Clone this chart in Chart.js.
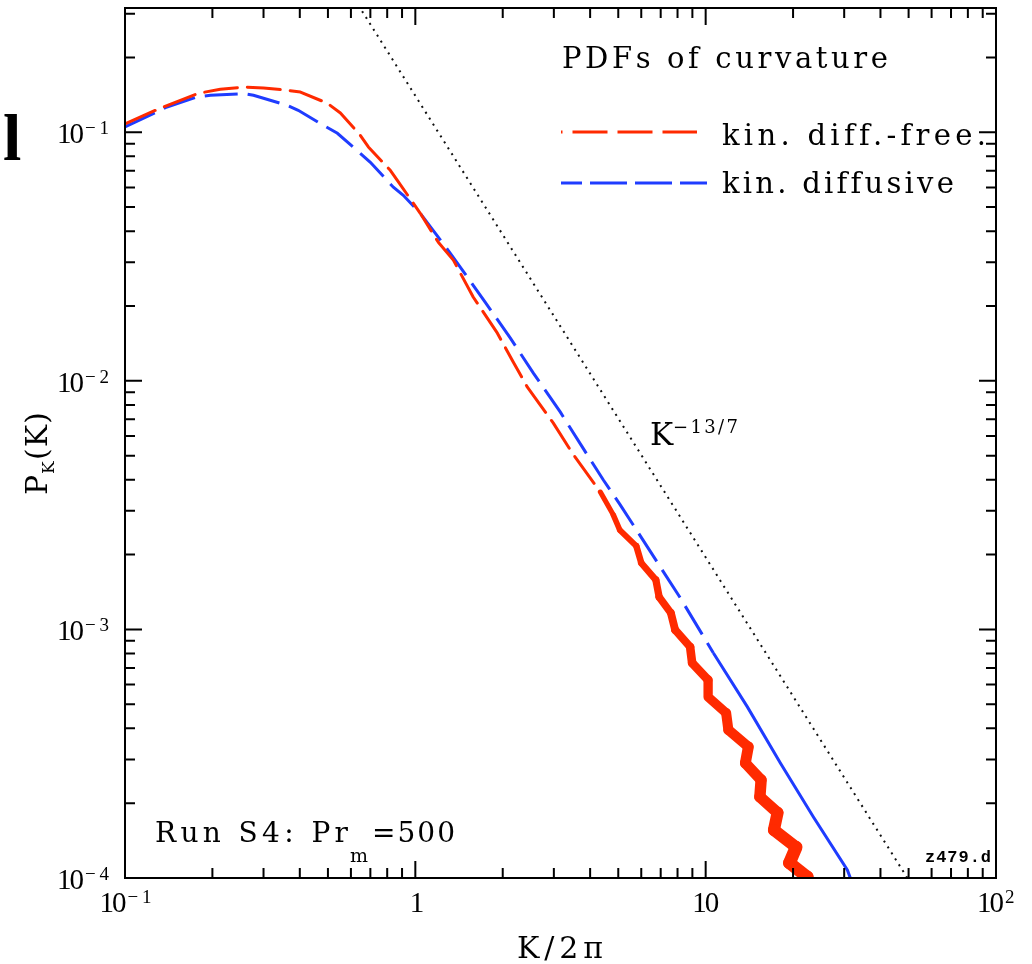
<!DOCTYPE html>
<html>
<head>
<meta charset="utf-8">
<script src="https://cdn.jsdelivr.net/npm/chart.js"></script>
<style>
  body { margin: 0; background: #fff; }
  #wrap { width: 1032px; height: 964px; position: relative; }
</style>
</head>
<body>
<div id="wrap"><canvas id="myChart"></canvas></div>
<script>
// kin. diff.-free (red): dashed part, then the noisy tail (read across the band)
const redX = [0.100, 0.129, 0.179, 0.213, 0.256, 0.300, 0.362, 0.402, 0.498, 0.552, 0.646, 0.689, 0.820, 0.867,
  1.040, 1.200, 1.352, 1.584, 1.917, 2.176, 2.432, 2.988, 3.474, 4.338,
  4.810, 5.063, 5.771, 6.004, 6.738, 6.914, 7.590, 7.851, 8.841, 8.983, 10.196, 10.196, 11.763, 11.974,
  14.030, 13.701, 15.524, 15.372, 17.69, 17.18, 20.49, 19.43, 22.36, 21.20];
const redY = [0.108, 0.1234, 0.1435, 0.149, 0.152, 0.1507, 0.1476, 0.1452, 0.1308, 0.1196, 0.0973, 0.0873, 0.0703, 0.0641,
  0.0472, 0.0361, 0.0306, 0.0217, 0.01555, 0.01189, 0.00943, 0.00676, 0.00512, 0.00357,
  0.002884, 0.002510, 0.002164, 0.001849, 0.001580, 0.001350, 0.001164, 0.000995, 0.000850, 0.000733, 0.000626, 0.000535, 0.000461, 0.000394,
  0.000337, 0.000290, 0.000248, 0.000212, 0.000183, 0.000156, 0.000133, 0.000115, 0.000101, 0.0000879];

// kin. diffusive (blue)
const blueX = [0.100, 0.1395, 0.177, 0.197, 0.256, 0.277, 0.362, 0.395, 0.482, 0.539, 0.646, 0.700, 0.840, 0.909,
  1.040, 1.320, 1.742, 2.125, 2.550, 3.159, 3.762, 4.443, 5.085, 8.183, 10.63, 13.92, 18.08, 23.50, 30.76, 31.5];
const blueY = [0.105, 0.1264, 0.1387, 0.1409, 0.1431, 0.1409, 0.1284, 0.1226, 0.1067, 0.0991, 0.0823, 0.0757, 0.0601, 0.0558,
  0.0472, 0.0326, 0.0207, 0.01485, 0.01074, 0.00748, 0.00541, 0.00399, 0.003164, 0.001337, 0.000804, 0.000488, 0.000290, 0.000176, 0.0001078, 0.0001];

// K^-13/7 guide line (end points)
const slopeX = [0.6, 60];
const slopeY = [0.362, 0.00007];

const xMajor = [0.1, 1, 10, 100];
const xTickText = [['10', '\u22121'], ['1', ''], ['10', ''], ['10', '2']];
const yMajor = [1e-4, 1e-3, 1e-2, 1e-1];
const yTickText = [['10', '\u22124'], ['10', '\u22123'], ['10', '\u22122'], ['10', '\u22121']];

const labels = ['kin. diff.-free.', 'kin. diffusive'];
const RED = '#ff2a00';
const BLUE = '#1f3cff';
const SERIF = '"Liberation Serif", serif';
const WIDE = '"DejaVu Serif", serif';

function pts(xs, ys) { return xs.map((x, i) => ({ x: x, y: ys[i] })); }

function fitText(ctx, txt, x, y, w, font) {
  ctx.font = font;
  ctx.letterSpacing = '0px';
  const nat = ctx.measureText(txt).width;
  const n = Array.from(txt).length;
  if (w && n > 1) ctx.letterSpacing = ((w - nat) / (n - 1)) + 'px';
  ctx.fillText(txt, x, y);
  ctx.letterSpacing = '0px';
}

function tickLabel(ctx, parts, x, y, align) {
  const bw = parts[0].length === 1 ? 11 : 27;
  const sw = parts[1] ? (parts[1].length > 1 ? 24 : 11) : 0;
  const total = bw + sw;
  const x0 = align === 'right' ? x - total : x - total / 2;
  fitText(ctx, parts[0], x0, y, bw, '29px ' + SERIF);
  if (parts[1]) fitText(ctx, parts[1], x0 + bw + 1, y - 9, sw, '19px ' + SERIF);
}

const decor = {
  id: 'decor',
  afterDraw(chart) {
    const ctx = chart.ctx;
    const a = chart.chartArea;
    const xs = chart.scales.x, ys = chart.scales.y;
    ctx.save();
    ctx.fillStyle = '#000';
    ctx.strokeStyle = '#000';
    ctx.textBaseline = 'alphabetic';
    ctx.textAlign = 'left';

    // frame
    ctx.lineWidth = 2;
    ctx.strokeRect(a.left, a.top, a.right - a.left, a.bottom - a.top);

    // inward ticks on all four sides
    ctx.beginPath();
    for (let e = -1; e <= 2; e++) {
      for (let m = 1; m <= 9; m++) {
        const v = m * Math.pow(10, e);
        if (v > 100.0001) break;
        const p = xs.getPixelForValue(v);
        const len = m === 1 ? 17 : 10;
        ctx.moveTo(p, a.bottom); ctx.lineTo(p, a.bottom - len);
        ctx.moveTo(p, a.top); ctx.lineTo(p, a.top + len);
      }
    }
    for (let e = -4; e <= -1; e++) {
      for (let m = 1; m <= 9; m++) {
        const v = m * Math.pow(10, e);
        if (v > ys.max) break;
        const p = ys.getPixelForValue(v);
        const len = m === 1 ? 17 : 10;
        ctx.moveTo(a.left, p); ctx.lineTo(a.left + len, p);
        ctx.moveTo(a.right, p); ctx.lineTo(a.right - len, p);
      }
    }
    ctx.stroke();

    // tick labels
    xMajor.forEach((v, i) => tickLabel(ctx, xTickText[i], xs.getPixelForValue(v), a.bottom + 34, 'center'));
    yMajor.forEach((v, i) => tickLabel(ctx, yTickText[i], a.left - 17, ys.getPixelForValue(v) + 11, 'right'));

    // axis titles
    fitText(ctx, 'K/2\u03c0', 517, 958, 86, '30px ' + WIDE);
    ctx.save();
    ctx.translate(47, 495);
    ctx.rotate(-Math.PI / 2);
    fitText(ctx, 'P', 0, 0, 20, '30px ' + WIDE);
    fitText(ctx, 'K', 21, 7, 12, '17px ' + WIDE);
    fitText(ctx, '(K)', 35, 0, 48, '30px ' + WIDE);
    ctx.restore();

    // legend
    fitText(ctx, 'PDFs of curvature', 562, 68, 326, '29px ' + WIDE);
    const ds = chart.data.datasets;
    ctx.lineWidth = 3;
    ctx.strokeStyle = ds[0].borderColor;
    ctx.setLineDash([35, 10]);
    ctx.lineDashOffset = 33.5;
    ctx.beginPath(); ctx.moveTo(561, 132); ctx.lineTo(697, 132); ctx.stroke();
    ctx.strokeStyle = ds[1].borderColor;
    ctx.setLineDash([37, 8]);
    ctx.lineDashOffset = 16;
    ctx.beginPath(); ctx.moveTo(561, 183); ctx.lineTo(707, 183); ctx.stroke();
    ctx.setLineDash([]);
    fitText(ctx, ds[0].label, 722, 145, 263, '29px ' + WIDE);
    fitText(ctx, ds[1].label, 722, 193, 231, '29px ' + WIDE);

    // annotations
    fitText(ctx, 'K', 650, 445, 21, '31px ' + WIDE);
    fitText(ctx, '\u221213/7', 673, 433, 65, '18px ' + WIDE);
    fitText(ctx, 'Run S4: Pr', 155, 842, 193, '28px ' + WIDE);
    fitText(ctx, 'm', 350, 862, 19, '19px ' + WIDE);
    fitText(ctx, '=500', 372, 842, 83, '28px ' + WIDE);
    fitText(ctx, 'z479.d', 925, 862, 66, 'bold 17px "Liberation Mono", monospace');

    // clipped panel letter at far left
    ctx.font = 'bold 66px ' + SERIF;
    ctx.fillText('l', 3, 160);
    ctx.restore();
  }
};

const ctx = document.getElementById('myChart');
let myChart = new Chart(ctx, {
  type: 'scatter',
  data: {
    datasets: [{
      label: labels[0],
      data: pts(redX, redY),
      showLine: true,
      borderColor: RED,
      borderWidth: 3,
      borderCapStyle: 'round',
      borderJoinStyle: 'round',
      pointRadius: 0,
      clip: 0,
      segment: {
        borderDash: c => c.p0.parsed.x < 4.3 ? [33, 10] : [],
        borderWidth: c => {
          const x = c.p0.parsed.x;
          if (x < 4.3) return 3;
          return 5 + 8 * Math.min(1, (Math.log10(x) - 0.63) / 0.7);
        }
      }
    }, {
      label: labels[1],
      data: pts(blueX, blueY),
      showLine: true,
      borderColor: BLUE,
      borderWidth: 3,
      pointRadius: 0,
      clip: 0,
      segment: {
        borderDash: c => c.p0.parsed.x < 9 ? [33, 10] : []
      }
    }, {
      label: 'K^-13/7',
      data: pts(slopeX, slopeY),
      showLine: true,
      borderColor: '#111',
      borderWidth: 2,
      borderDash: [2, 5],
      pointRadius: 0,
      clip: 0
    }]
  },
  options: {
    responsive: true,
    maintainAspectRatio: false,
    animation: false,
    devicePixelRatio: 1,
    layout: { padding: { left: 125, right: 36, top: 8, bottom: 86 } },
    plugins: { legend: { display: false }, tooltip: { enabled: false } },
    scales: {
      x: {
        type: 'logarithmic', min: 0.1, max: 100,
        ticks: { display: false }, grid: { display: false }, border: { display: false },
        afterFit: s => { s.height = 0; }
      },
      y: {
        type: 'logarithmic', min: 1e-4, max: 0.3162,
        ticks: { display: false }, grid: { display: false }, border: { display: false },
        afterFit: s => { s.width = 0; }
      }
    }
  },
  plugins: [decor]
});
</script>
</body>
</html>
